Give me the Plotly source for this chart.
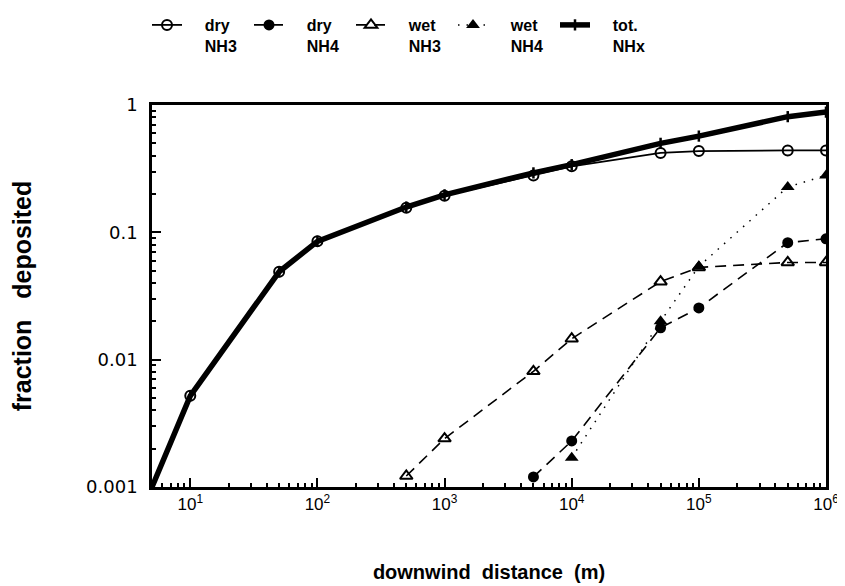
import plotly.graph_objects as go

# downwind distances (m) and deposited fractions
x_tot = [5, 10, 50, 100, 500, 1000, 5000, 1e4, 5e4, 1e5, 5e5, 1e6]
y_tot = [0.001, 0.0052, 0.049, 0.085, 0.158, 0.197, 0.293, 0.34, 0.50, 0.57, 0.81, 0.88]

x_dry_nh3 = [10, 50, 100, 500, 1000, 5000, 1e4, 5e4, 1e5, 5e5, 1e6]
y_dry_nh3 = [0.0052, 0.049, 0.085, 0.156, 0.194, 0.28, 0.33, 0.42, 0.435, 0.44, 0.44]

x_dry_nh4 = [5000, 1e4, 5e4, 1e5, 5e5, 1e6]
y_dry_nh4 = [0.0012, 0.0023, 0.0178, 0.0255, 0.083, 0.089]

x_wet_nh3 = [500, 1000, 5000, 1e4, 5e4, 1e5, 5e5, 1e6]
y_wet_nh3 = [0.00122, 0.0024, 0.0081, 0.0146, 0.041, 0.053, 0.058, 0.058]

x_wet_nh4 = [1e4, 5e4, 1e5, 5e5, 1e6]
y_wet_nh4 = [0.0017, 0.020, 0.054, 0.227, 0.28]

x_tickvals = [10, 100, 1000, 1e4, 1e5, 1e6]
x_ticktext = ["10<sup>1</sup>", "10<sup>2</sup>", "10<sup>3</sup>", "10<sup>4</sup>",
              "10<sup>5</sup>", "10<sup>6</sup>"]
y_tickvals = [0.001, 0.01, 0.1, 1]
y_ticktext = ["0.001", "0.01", "0.1", "1"]

x_minor = [m * 10 ** e for e in range(0, 6) for m in range(2, 10)]
y_minor = [m * 10.0 ** e for e in range(-3, 0) for m in range(2, 10)]

BLK = "black"
FONT = "Liberation Sans, Arial, sans-serif"
PAD = "&nbsp;&nbsp;&nbsp;&nbsp;"


def lname(a, b):
    return PAD + a + "<br>" + PAD + b


fig = go.Figure()

fig.add_trace(go.Scatter(
    x=x_dry_nh3, y=y_dry_nh3, name=lname("dry", "NH3"), mode="lines+markers", legend="legend",
    line=dict(color=BLK, width=1.8),
    marker=dict(symbol="circle-open", size=10, color=BLK, line=dict(width=2, color=BLK)),
))
fig.add_trace(go.Scatter(
    x=x_dry_nh4, y=y_dry_nh4, name=lname("dry", "NH4"), mode="lines+markers", legend="legend2",
    line=dict(color=BLK, width=1.6, dash="11px,7px"),
    marker=dict(symbol="circle", size=11, color=BLK),
))
fig.add_trace(go.Scatter(
    x=x_wet_nh3, y=y_wet_nh3, name=lname("wet", "NH3"), mode="lines+markers", legend="legend3",
    line=dict(color=BLK, width=1.6, dash="11px,7px"),
    marker=dict(symbol="triangle-up-open", size=11, color=BLK, line=dict(width=2, color=BLK)),
))
fig.add_trace(go.Scatter(
    x=x_wet_nh4, y=y_wet_nh4, name=lname("wet", "NH4"), mode="lines+markers", legend="legend4",
    line=dict(color=BLK, width=1.5, dash="1.5px,7px"),
    marker=dict(symbol="triangle-up", size=12, color=BLK),
))
fig.add_trace(go.Scatter(
    x=x_tot, y=y_tot, name=lname("tot.", "NHx"), mode="lines+markers", legend="legend5",
    line=dict(color=BLK, width=5.5),
    marker=dict(symbol="line-ns-open", size=8, color=BLK, line=dict(width=2.5, color=BLK)),
))

W, H = 837, 578  # page body has an 8px margin
legend_common = dict(
    orientation="h", xref="container", yref="container", xanchor="left", yanchor="top",
    valign="top", bgcolor="rgba(0,0,0,0)", borderwidth=0,
    font=dict(size=16, family=FONT, weight="bold", color=BLK),
)
legends = {}
for i, key in enumerate(["legend", "legend2", "legend3", "legend4", "legend5"]):
    legends[key] = dict(legend_common, x=(139 + 102 * i) / W, y=1.0)

fig.update_layout(
    width=W, height=H,
    margin=dict(l=144, r=19, t=97, b=99, autoexpand=False),
    paper_bgcolor="white", plot_bgcolor="white",
    font=dict(family=FONT, color=BLK, size=16),
    showlegend=True,
    **legends,
)

fig.update_xaxes(
    type="log", range=[0.699, 6],
    tickvals=x_tickvals, ticktext=x_ticktext,
    ticks="inside", ticklen=9, tickwidth=2, tickcolor=BLK,
    minor=dict(tickmode="array", tickvals=x_minor, ticks="inside", ticklen=4,
               tickwidth=1.5, tickcolor=BLK, showgrid=False),
    showline=True, linewidth=2.5, linecolor=BLK, mirror=True,
    showgrid=False, zeroline=False,
    tickfont=dict(size=17),
    title=dict(text="downwind&nbsp; distance&nbsp; (m)", font=dict(size=20, weight="bold"), standoff=52),
)
fig.update_yaxes(
    type="log", range=[-3, 0],
    tickvals=y_tickvals, ticktext=y_ticktext,
    ticks="inside", ticklen=9, tickwidth=2, tickcolor=BLK,
    minor=dict(tickmode="array", tickvals=y_minor, ticks="inside", ticklen=4,
               tickwidth=1.5, tickcolor=BLK, showgrid=False),
    showline=True, linewidth=2.5, linecolor=BLK, mirror=True,
    showgrid=False, zeroline=False,
    tickfont=dict(size=18, family="DejaVu Sans, sans-serif"), ticklabelstandoff=8,
    title=dict(text="fraction&nbsp;&nbsp; deposited", font=dict(size=25, weight="bold"), standoff=50),
)

fig.write_html("out.html")
